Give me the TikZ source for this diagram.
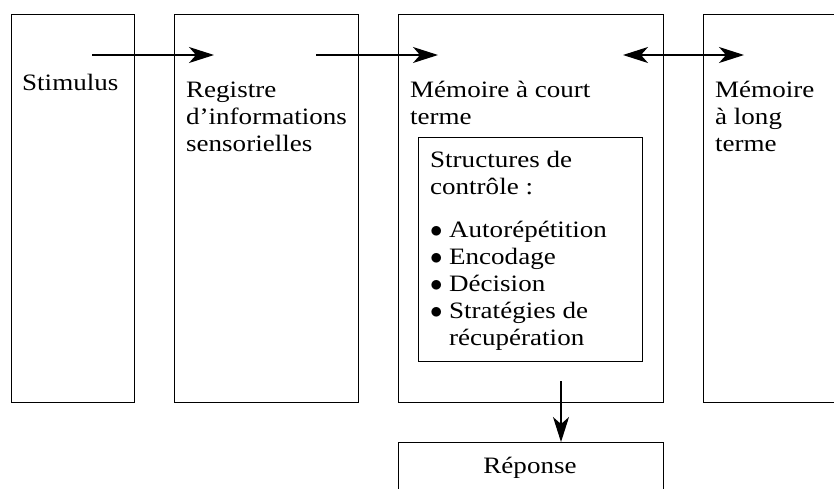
\documentclass[tikz,border=0pt]{standalone}
\usepackage{fontspec}
\setmainfont{Liberation Serif}[FakeStretch=1.15]
\usetikzlibrary{arrows.meta}
\tikzset{
  box/.style={draw, line width=1.2pt, inner sep=0, anchor=north west},
  txt/.style={anchor=north west, inner sep=0, align=left, font=\fontsize{23.5}{27}\selectfont},
  arr/.style={line width=1.2pt, -{Stealth[length=25pt,width=16pt,inset=7pt]}},
  darr/.style={line width=1.2pt, {Stealth[length=25pt,width=16pt,inset=7pt]}-{Stealth[length=25pt,width=16pt,inset=7pt]}}
}
\newcommand{\fl}{\rule{0pt}{20pt}}
\begin{document}
\begin{tikzpicture}[x=1pt,y=-1pt]
\clip (0,0) rectangle (834,488);
% boxes
\node[box, minimum width=123, minimum height=388] (b1) at (11,14) {};
\node[box, minimum width=184, minimum height=388] (b2) at (174,14) {};
\node[box, minimum width=265, minimum height=388] (b3) at (398,14) {};
\node[box, minimum width=150, minimum height=388] (b4) at (703,14) {};
\node[box, minimum width=224, minimum height=224] (inner) at (418,137) {};
\node[box, minimum width=265, minimum height=60] (rep) at (398,442) {};
% texts
\node[txt] (t1) at (22,70) {\fl Stimulus};
\node[txt] (t2) at (186,77) {\fl Registre\\d’informations\\sensorielles};
\node[txt] (t3) at (410,77) {\fl Mémoire à court\\terme};
\node[txt] (t4) at (715,77) {\fl Mémoire\\à long\\terme};
\node[txt] (t5) at (430,147) {\fl Structures de\\contrôle :};
\node[txt] (t6) at (430,217) {\fl \makebox[19pt][l]{$\bullet$}Autorépétition\\\makebox[19pt][l]{$\bullet$}Encodage\\\makebox[19pt][l]{$\bullet$}Décision\\\makebox[19pt][l]{$\bullet$}Stratégies de\\\hspace*{19pt}récupération};
\node[anchor=base, inner sep=0, font=\fontsize{23.5}{27}\selectfont] (t7) at (530,473) {Réponse};
% connectors
\coordinate (a1s) at (92,55);
\coordinate (a1e) at (214,55);
\coordinate (a2s) at (316,55);
\coordinate (a2e) at (438,55);
\coordinate (a3s) at (623,55);
\coordinate (a3e) at (744,55);
\coordinate (a4s) at (561,381);
\coordinate (a4e) at (561,442);
\draw[arr] (a1s) -- (a1e);
\draw[arr] (a2s) -- (a2e);
\draw[darr] (a3s) -- (a3e);
\draw[arr] (a4s) -- (a4e);
\end{tikzpicture}
\end{document}
